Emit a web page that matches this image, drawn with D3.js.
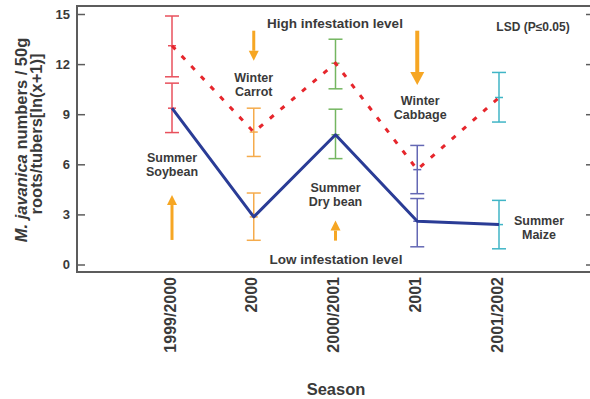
<!DOCTYPE html>
<html>
<head>
<meta charset="utf-8">
<script src="https://cdn.jsdelivr.net/npm/d3@7"></script>
<style>
  html, body { margin: 0; padding: 0; background: #fff; }
  svg { display: block; }
  text { font-family: "Liberation Sans", Arial, sans-serif; font-weight: bold; fill: #3a3a3a; }
</style>
</head>
<body>
<svg id="chart" width="590" height="399"></svg>
<script>
// ---- data ----
const seasons = ["1999/2000", "2000", "2000/2001", "2001", "2001/2002"];
const crops = ["Summer\nSoybean", "Winter\nCarrot", "Summer\nDry bean", "Winter\nCabbage", "Summer\nMaize"];
const highValues = [13.1, 7.93, 12.05, 5.68, 10.0];   // red dotted line (high infestation)
const highLow = [11.24, 6.47, 10.52, 4.24, 8.53];
const highHigh = [14.88, 9.36, 13.49, 7.13, 11.5];
const lowValues = [9.36, 2.85, 7.77, 2.59, 2.39];     // blue solid line (low infestation)
const lowLow = [7.9, 1.45, 6.34, 1.06, 0.94];
const lowHigh = [10.86, 4.28, 9.3, 3.95, 3.84];
const barColors = ["#e8505c", "#f5ab4c", "#74b660", "#6468b4", "#40b5c6"];
const yTicks = [0, 3, 6, 9, 12, 15];
// annotation arrows: season index, from value, to value
const arrowSeason = [0, 1, 2, 3];
const arrowFrom = [1.47, 14.0, 1.43, 14.0];
const arrowTo = [4.16, 12.2, 2.63, 10.75];
const arrowBig = [false, false, false, true];
// crop label positions (value at text center)
const cropLabelY = [5.96, 10.73, 4.16, 9.35, 2.2];

// ---- layout ----
const svg = d3.select("#chart");
const frame = { left: 77, top: 6, right: 595, bottom: 272 };
const x = d3.scalePoint().domain(seasons).range([172, 499]);
const y = d3.scaleLinear().domain([0, 15]).range([264.5, 14]);

// frame
svg.append("rect")
  .attr("x", frame.left).attr("y", frame.top)
  .attr("width", frame.right - frame.left).attr("height", frame.bottom - frame.top)
  .attr("fill", "none").attr("stroke", "#5c5c5c").attr("stroke-width", 2);

// left axis
const yAxis = svg.append("g").attr("transform", `translate(${frame.left},0)`)
  .call(d3.axisLeft(y).tickValues(yTicks).tickSize(-8).tickPadding(7));
yAxis.select(".domain").remove();
yAxis.selectAll(".tick line").attr("stroke", "#5c5c5c").attr("stroke-width", 1.5);
yAxis.selectAll(".tick text").attr("font-size", 13).attr("fill", "#3a3a3a")
  .attr("font-family", "Liberation Sans, Arial, sans-serif").attr("font-weight", "bold");

// right axis (ticks only)
const yAxisR = svg.append("g").attr("transform", `translate(${frame.right},0)`)
  .call(d3.axisRight(y).tickValues(yTicks).tickSize(-9).tickFormat(""));
yAxisR.select(".domain").remove();
yAxisR.selectAll(".tick line").attr("stroke", "#5c5c5c").attr("stroke-width", 1.5);

// x tick labels (rotated)
svg.append("g").selectAll("text").data(seasons).join("text")
  .attr("transform", d => `translate(${x(d) - 2},277) rotate(-90)`)
  .attr("text-anchor", "end").attr("dy", "0.35em")
  .attr("font-size", 16).text(d => d);

// axis titles
svg.append("text").attr("x", 336).attr("y", 395).attr("text-anchor", "middle")
  .attr("font-size", 16.5).text("Season");

const yt = svg.append("text").attr("transform", "translate(27,140) rotate(-90)")
  .attr("text-anchor", "middle").attr("font-size", 16.5);
yt.append("tspan").attr("font-style", "italic").text("M. javanica");
yt.append("tspan").text(" numbers / 50g");
svg.append("text").attr("transform", "translate(42,134) rotate(-90)")
  .attr("text-anchor", "middle").attr("font-size", 16.5).text("roots/tubers[ln(x+1)]");

// error bars
function errorBars(lo, hi, mid, cls) {
  const g = svg.append("g").attr("class", cls);
  seasons.forEach((s, i) => {
    const cx = x(s), c = barColors[i];
    g.append("line").attr("x1", cx).attr("x2", cx).attr("y1", y(lo[i])).attr("y2", y(hi[i]))
      .attr("stroke", c).attr("stroke-width", 1.5);
    [lo[i], hi[i]].forEach(v => g.append("line").attr("x1", cx - 7).attr("x2", cx + 7)
      .attr("y1", y(v)).attr("y2", y(v)).attr("stroke", c).attr("stroke-width", 1.5));
    g.append("line").attr("x1", cx - 4).attr("x2", cx + 4)
      .attr("y1", y(mid[i])).attr("y2", y(mid[i])).attr("stroke", c).attr("stroke-width", 1.5);
  });
}
errorBars(highLow, highHigh, highValues, "high-bars");
errorBars(lowLow, lowHigh, lowValues, "low-bars");

// lines
const line = d3.line().x((d, i) => x(seasons[i])).y(d => y(d));
svg.append("path").datum(highValues).attr("d", line).attr("fill", "none")
  .attr("stroke", "#e6262c").attr("stroke-width", 3).attr("stroke-dasharray", "5,9");
svg.append("path").datum(lowValues).attr("d", line).attr("fill", "none")
  .attr("stroke", "#2a3c96").attr("stroke-width", 3).attr("stroke-linejoin", "round");

// arrows
const orange = "#f6a623";
arrowSeason.forEach((si, i) => {
  const cx = x(seasons[si]);
  const y0 = y(arrowFrom[i]), y1 = y(arrowTo[i]);
  const dir = y1 < y0 ? -1 : 1;
  const hl = arrowBig[i] ? 13 : 10, hw = arrowBig[i] ? 7 : 5, sw = arrowBig[i] ? 4 : 3;
  svg.append("line").attr("x1", cx).attr("x2", cx).attr("y1", y0).attr("y2", y1 - dir * hl)
    .attr("stroke", orange).attr("stroke-width", sw);
  svg.append("path")
    .attr("d", `M${cx},${y1} L${cx - hw},${y1 - dir * hl} L${cx + hw},${y1 - dir * hl} Z`)
    .attr("fill", orange);
});

// crop labels
const cropDx = [0, 0, 0, 3, 40];
crops.forEach((t, i) => {
  const lines = t.split("\n");
  const tx = svg.append("text").attr("text-anchor", "middle").attr("font-size", 12.5)
    .attr("x", x(seasons[i]) + cropDx[i]).attr("y", y(cropLabelY[i]) - 7 + 4);
  lines.forEach((l, j) => tx.append("tspan").attr("x", x(seasons[i]) + cropDx[i])
    .attr("dy", j === 0 ? 0 : 14).text(l));
});

// level labels
svg.append("text").attr("x", 335).attr("y", y(14.48) + 5).attr("text-anchor", "middle")
  .attr("font-size", 13.5).text("High infestation level");
svg.append("text").attr("x", 336).attr("y", y(0.33) + 5).attr("text-anchor", "middle")
  .attr("font-size", 13.5).text("Low infestation level");
svg.append("text").attr("x", 533).attr("y", y(14.2) + 4).attr("text-anchor", "middle")
  .attr("font-size", 12).text("LSD (P\u22640.05)");
</script>
</body>
</html>
